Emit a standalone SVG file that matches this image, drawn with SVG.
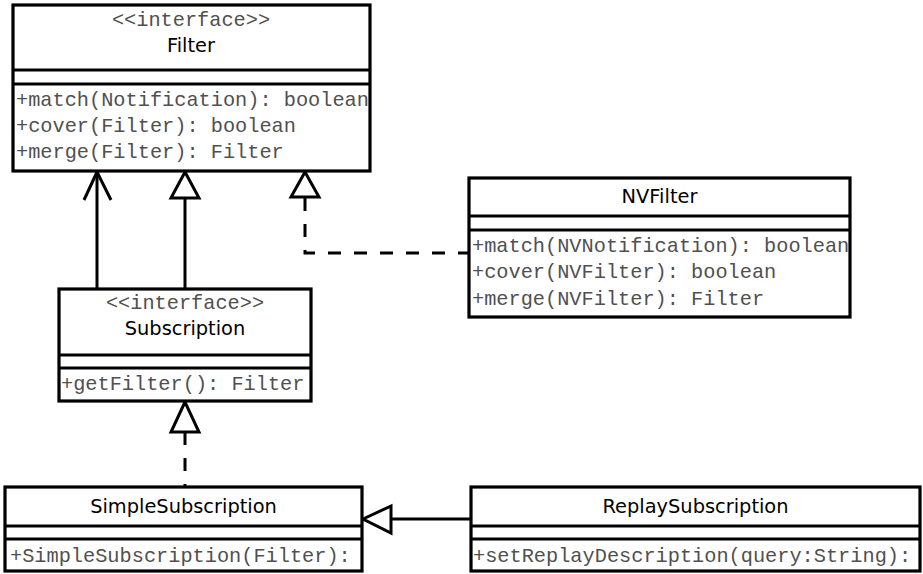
<svg xmlns="http://www.w3.org/2000/svg" width="923" height="574" viewBox="0 0 923 574">
  <style>
    .box { fill: #fff; stroke: #000; stroke-width: 3.2; }
    .sep { stroke: #000; stroke-width: 3.2; }
    .title { font-family: "DejaVu Sans", sans-serif; font-size: 19.4px; fill: #000; text-anchor: middle; }
    .mono { font-family: "Liberation Mono", "Courier New", monospace; font-size: 20.3px; fill: #505050; }
    .stereo { text-anchor: middle; }
    .line { fill: none; stroke: #000; stroke-width: 3; }
    .dash { fill: none; stroke: #000; stroke-width: 3; stroke-dasharray: 13 13; }
    .head { fill: #fff; stroke: #000; stroke-width: 3; stroke-linejoin: miter; }
  </style>

  <!-- connectors -->
  <g id="connectors">
    <!-- Subscription -> Filter association -->
    <path class="line" d="M97,289 V172"/>
    <path class="line" d="M84,200 L97,172 L111,200"/>
    <!-- Subscription extends Filter -->
    <path class="line" d="M185,289 V198"/>
    <polygon class="head" points="185,172 171,198 199,198"/>
    <!-- NVFilter realizes Filter -->
    <path class="dash" d="M305,198 V253 H468"/>
    <polygon class="head" points="305,172 291,197 319,197"/>
    <!-- SimpleSubscription realizes Subscription -->
    <path class="dash" d="M185,432 V487"/>
    <polygon class="head" points="185,402 171,432 199,432"/>
    <!-- ReplaySubscription extends SimpleSubscription -->
    <path class="line" d="M391,519 H470"/>
    <polygon class="head" points="363,519 391,506 391,533"/>
  </g>

  <g id="Filter">
    <rect class="box" x="13" y="5" width="357" height="166"/>
    <line class="sep" x1="13" y1="70" x2="370" y2="70"/>
    <line class="sep" x1="13" y1="84" x2="370" y2="84"/>
    <text class="mono stereo" x="191" y="26">&lt;&lt;interface&gt;&gt;</text>
    <text class="title" x="191" y="52">Filter</text>
    <text class="mono" x="16" y="106">+match(Notification): boolean</text>
    <text class="mono" x="16" y="132">+cover(Filter): boolean</text>
    <text class="mono" x="16" y="158">+merge(Filter): Filter</text>
  </g>

  <g id="NVFilter">
    <rect class="box" x="469" y="178" width="381" height="139"/>
    <line class="sep" x1="469" y1="216" x2="850" y2="216"/>
    <line class="sep" x1="469" y1="230" x2="850" y2="230"/>
    <text class="title" x="659.5" y="203">NVFilter</text>
    <text class="mono" x="472" y="252">+match(NVNotification): boolean</text>
    <text class="mono" x="472" y="278">+cover(NVFilter): boolean</text>
    <text class="mono" x="472" y="305">+merge(NVFilter): Filter</text>
  </g>

  <g id="Subscription">
    <rect class="box" x="59" y="289" width="252" height="112"/>
    <line class="sep" x1="59" y1="355" x2="311" y2="355"/>
    <line class="sep" x1="59" y1="368" x2="311" y2="368"/>
    <text class="mono stereo" x="185" y="309">&lt;&lt;interface&gt;&gt;</text>
    <text class="title" x="185" y="335">Subscription</text>
    <text class="mono" x="61" y="390">+getFilter(): Filter</text>
  </g>

  <g id="SimpleSubscription">
    <rect class="box" x="5" y="487" width="357" height="84"/>
    <line class="sep" x1="5" y1="526" x2="362" y2="526"/>
    <line class="sep" x1="5" y1="539" x2="362" y2="539"/>
    <text class="title" x="183.5" y="513">SimpleSubscription</text>
    <text class="mono" x="10" y="562">+SimpleSubscription(Filter):</text>
  </g>

  <g id="ReplaySubscription">
    <rect class="box" x="471" y="487" width="449" height="84"/>
    <line class="sep" x1="471" y1="526" x2="920" y2="526"/>
    <line class="sep" x1="471" y1="539" x2="920" y2="539"/>
    <text class="title" x="695.5" y="513">ReplaySubscription</text>
    <text class="mono" x="473" y="562">+setReplayDescription(query:String):</text>
  </g>
</svg>
